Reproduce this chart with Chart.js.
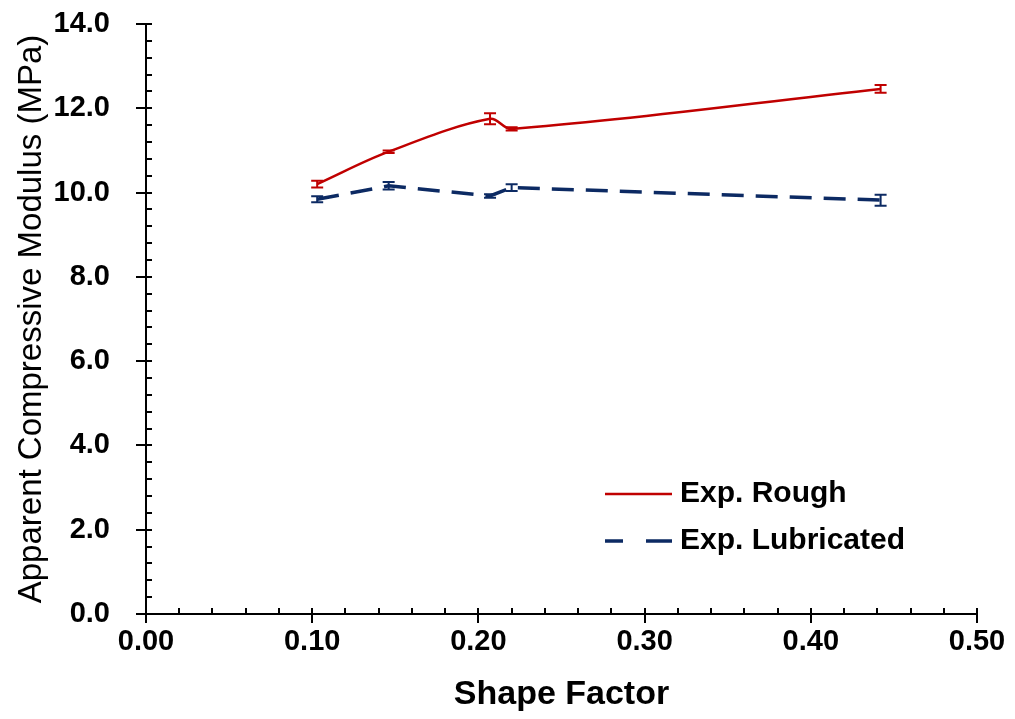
<!DOCTYPE html>
<html>
<head>
<meta charset="utf-8">
<script src="https://cdn.jsdelivr.net/npm/chart.js@4.4.1/dist/chart.umd.min.js"></script>
<style>
  html, body { margin: 0; padding: 0; background: #fff; }
  #wrap { width: 1015px; height: 719px; }
</style>
</head>
<body>
<div id="wrap"><canvas id="grafica_modulo" width="1015" height="719"></canvas></div>
<script>
//Datos
const shapeFactor = [0.103, 0.146, 0.207, 0.220, 0.442];
const roughModulus = [10.20, 10.97, 11.75, 11.51, 12.46];
const roughError = [0.08, 0.03, 0.13, 0.04, 0.09];
const lubricatedModulus = [9.84, 10.16, 9.92, 10.12, 9.82];
const lubricatedError = [0.07, 0.09, 0.04, 0.08, 0.13];
const seriesNames = ['Exp. Rough', 'Exp. Lubricated'];

const rojo = '#c00000';
const azul = '#0c2a63';

function toPoints(xs, ys) {
  return xs.map((x, i) => ({ x: x, y: ys[i] }));
}

//Barras de error y ejes con marcas menores
const errorBarsPlugin = {
  id: 'errorBars',
  afterDatasetsDraw(chart) {
    const ctx = chart.ctx;
    const xs = chart.scales.x;
    const ys = chart.scales.y;
    chart.data.datasets.forEach(ds => {
      ctx.save();
      ctx.strokeStyle = ds.borderColor;
      ctx.lineWidth = 2;
      ds.data.forEach((p, i) => {
        const px = xs.getPixelForValue(p.x);
        const top = ys.getPixelForValue(p.y + ds.errors[i]);
        const bot = ys.getPixelForValue(p.y - ds.errors[i]);
        ctx.beginPath();
        ctx.moveTo(px, top); ctx.lineTo(px, bot);
        ctx.moveTo(px - 6, top); ctx.lineTo(px + 6, top);
        ctx.moveTo(px - 6, bot); ctx.lineTo(px + 6, bot);
        ctx.stroke();
      });
      ctx.restore();
    });
  },
  afterDraw(chart) {
    const ctx = chart.ctx;
    const xs = chart.scales.x;
    const ys = chart.scales.y;
    const area = chart.chartArea;
    ctx.save();
    ctx.strokeStyle = '#000';
    ctx.lineWidth = 2;
    ctx.beginPath();
    ctx.moveTo(area.left, area.top); ctx.lineTo(area.left, area.bottom);
    ctx.moveTo(area.left, area.bottom); ctx.lineTo(area.right, area.bottom);
    //marcas eje y
    for (let v = 0; v <= 14.001; v += 0.4) {
      const py = Math.round(ys.getPixelForValue(v));
      const major = Math.abs(v / 2 - Math.round(v / 2)) < 0.001;
      ctx.moveTo(major ? area.left - 10 : area.left, py);
      ctx.lineTo(area.left + 6, py);
    }
    //marcas eje x
    for (let v = 0; v <= 0.5001; v += 0.02) {
      const px = Math.round(xs.getPixelForValue(v));
      const major = Math.abs(v * 10 - Math.round(v * 10)) < 0.001;
      ctx.moveTo(px, area.bottom - 6);
      ctx.lineTo(px, major ? area.bottom + 9 : area.bottom);
    }
    ctx.stroke();

    //leyenda dentro del area
    const lx = area.left + 459;
    const rows = [area.top + 470, area.top + 517];
    ctx.lineWidth = 2.5;
    ctx.strokeStyle = rojo;
    ctx.beginPath();
    ctx.moveTo(lx, rows[0]); ctx.lineTo(lx + 67, rows[0]);
    ctx.stroke();
    ctx.lineWidth = 3.5;
    ctx.strokeStyle = azul;
    ctx.beginPath();
    ctx.moveTo(lx, rows[1]); ctx.lineTo(lx + 18, rows[1]);
    ctx.moveTo(lx + 41, rows[1]); ctx.lineTo(lx + 67, rows[1]);
    ctx.stroke();
    ctx.fillStyle = '#000';
    ctx.font = 'bold 30px "Liberation Sans", Arial, sans-serif';
    ctx.textBaseline = 'middle';
    ctx.fillText(seriesNames[0], lx + 75, rows[0]);
    ctx.fillText(seriesNames[1], lx + 75, rows[1]);
    ctx.restore();
  }
};

const grafica_modulo = document.getElementById('grafica_modulo');

const data_grafica_modulo = {
  datasets: [{
    label: seriesNames[0],
    data: toPoints(shapeFactor, roughModulus),
    errors: roughError,
    borderColor: rojo,
    borderWidth: 2.5,
    pointRadius: 0,
    tension: 0.35,
    fill: false
  }, {
    label: seriesNames[1],
    data: toPoints(shapeFactor, lubricatedModulus),
    errors: lubricatedError,
    borderColor: azul,
    borderWidth: 3.5,
    borderDash: [22, 12],
    pointRadius: 0,
    tension: 0,
    fill: false
  }]
};

new Chart(grafica_modulo, {
  type: 'line',
  data: data_grafica_modulo,
  plugins: [errorBarsPlugin],
  options: {
    responsive: false,
    animation: false,
    layout: { padding: { left: 12, right: 38, top: 24, bottom: 0 } },
    plugins: { legend: { display: false }, tooltip: { enabled: false } },
    scales: {
      x: {
        type: 'linear',
        min: 0,
        max: 0.5,
        grid: { display: false },
        border: { display: false },
        ticks: {
          stepSize: 0.1,
          padding: 3,
          color: '#000',
          font: { family: '"Liberation Sans", Arial, sans-serif', size: 29, weight: 'bold' },
          callback: v => v.toFixed(2)
        },
        title: {
          display: true,
          text: 'Shape Factor',
          color: '#000',
          padding: { top: 4, bottom: 4 },
          font: { family: '"Liberation Sans", Arial, sans-serif', size: 34, weight: 'bold' }
        },
        afterFit: s => { s.height = 105; }
      },
      y: {
        min: 0,
        max: 14,
        grid: { display: false },
        border: { display: false },
        ticks: {
          stepSize: 2,
          padding: 28,
          color: '#000',
          font: { family: '"Liberation Sans", Arial, sans-serif', size: 29, weight: 'bold' },
          callback: v => v.toFixed(1)
        },
        title: {
          display: true,
          text: 'Apparent Compressive Modulus (MPa)',
          color: '#000',
          padding: { top: 0, bottom: 0 },
          font: { family: '"Liberation Sans", Arial, sans-serif', size: 33, weight: 'normal' }
        },
        afterFit: s => {
          s.width = 134;
          s.paddingTop = 0;
          s.paddingBottom = 0;
        }
      }
    }
  }
});
</script>
</body>
</html>
